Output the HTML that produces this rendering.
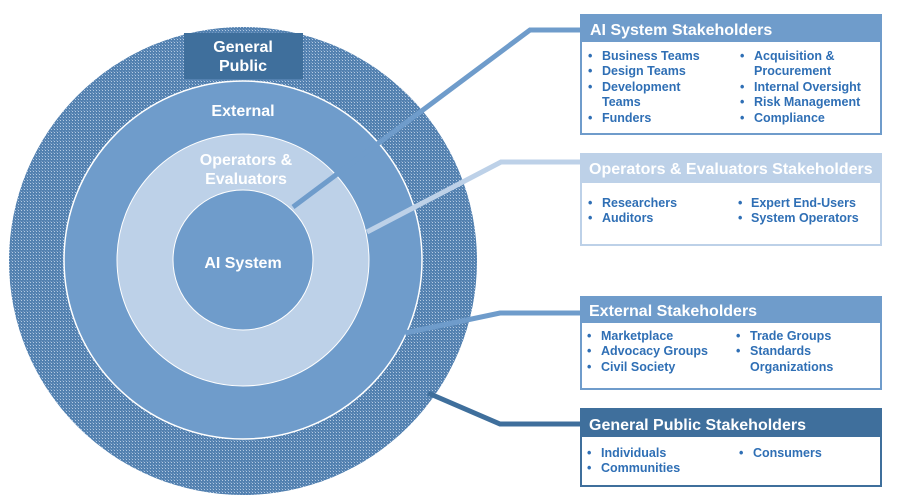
<!DOCTYPE html>
<html><head><meta charset="utf-8"><style>
html,body{margin:0;padding:0;background:#fff;}
svg{display:block;font-family:"Liberation Sans",sans-serif;font-weight:bold;}
</style></head><body>
<svg width="910" height="504" viewBox="0 0 910 504" xmlns="http://www.w3.org/2000/svg">
<defs>
<pattern id="h" width="3" height="3" patternUnits="userSpaceOnUse">
<rect width="3" height="3" fill="#5381b0"/>
<rect width="1" height="1" fill="#b3c9e2"/>
<rect x="2" y="2" width="1" height="1" fill="#7499c2"/>
</pattern>
</defs>
<circle cx="243" cy="261" r="234" fill="url(#h)"/>
<rect x="184" y="33" width="119" height="46" fill="#3f6f9c"/>
<text x="243" y="52" fill="#fff" font-size="16" text-anchor="middle">General</text>
<text x="243" y="71" fill="#fff" font-size="16" text-anchor="middle">Public</text>
<circle cx="243" cy="260" r="179" fill="#6f9ccb" stroke="#fff" stroke-width="1.5"/>
<text x="243" y="116" fill="#fff" font-size="16" text-anchor="middle">External</text>
<circle cx="243" cy="260" r="126" fill="#bdd1e8" stroke="#fff" stroke-width="1"/>
<text x="246" y="165" fill="#fff" font-size="16" text-anchor="middle">Operators &amp;</text>
<text x="246" y="184" fill="#fff" font-size="16" text-anchor="middle">Evaluators</text>
<circle cx="243" cy="260" r="70" fill="#6f9ccb" stroke="#fff" stroke-width="1"/>
<text x="243" y="268" fill="#fff" font-size="16" text-anchor="middle">AI System</text>

<polyline points="293,207 530,30 582,30" fill="none" stroke="#6f9ccb" stroke-width="5"/>
<polyline points="367,232 501,162 582,162" fill="none" stroke="#bdd1e8" stroke-width="5"/>
<polyline points="405,333 500,313 582,313" fill="none" stroke="#6f9ccb" stroke-width="5"/>
<polyline points="428,393 500,424 582,424" fill="none" stroke="#3f6f9c" stroke-width="5"/>

<g font-size="12.5" fill="#2f6fb5">
<rect x="581" y="15" width="300" height="119" fill="#fff" stroke="#6f9ccb" stroke-width="2"/>
<rect x="580" y="14" width="302" height="28" fill="#6f9ccb"/>
<text x="590" y="35" fill="#fff" font-size="16">AI System Stakeholders</text>
<text x="588" y="60">•</text><text x="602" y="60">Business Teams</text>
<text x="588" y="75">•</text><text x="602" y="75">Design Teams</text>
<text x="588" y="91">•</text><text x="602" y="91">Development</text>
<text x="602" y="106">Teams</text>
<text x="588" y="122">•</text><text x="602" y="122">Funders</text>
<text x="740" y="60">•</text><text x="754" y="60">Acquisition &amp;</text>
<text x="754" y="75">Procurement</text>
<text x="740" y="91">•</text><text x="754" y="91">Internal Oversight</text>
<text x="740" y="106">•</text><text x="754" y="106">Risk Management</text>
<text x="740" y="122">•</text><text x="754" y="122">Compliance</text>

<rect x="581" y="154" width="300" height="91" fill="#fff" stroke="#bdd1e8" stroke-width="2"/>
<rect x="580" y="153" width="302" height="30" fill="#bdd1e8"/>
<text x="589" y="174" fill="#fff" font-size="16">Operators &amp; Evaluators Stakeholders</text>
<text x="588" y="207">•</text><text x="602" y="207">Researchers</text>
<text x="588" y="222">•</text><text x="602" y="222">Auditors</text>
<text x="738" y="207">•</text><text x="751" y="207">Expert End-Users</text>
<text x="738" y="222">•</text><text x="751" y="222">System Operators</text>

<rect x="581" y="297" width="300" height="92" fill="#fff" stroke="#6f9ccb" stroke-width="2"/>
<rect x="580" y="296" width="302" height="27" fill="#6f9ccb"/>
<text x="589" y="316" fill="#fff" font-size="16">External Stakeholders</text>
<text x="587" y="340">•</text><text x="601" y="340">Marketplace</text>
<text x="587" y="355">•</text><text x="601" y="355">Advocacy Groups</text>
<text x="587" y="371">•</text><text x="601" y="371">Civil Society</text>
<text x="736" y="340">•</text><text x="750" y="340">Trade Groups</text>
<text x="736" y="355">•</text><text x="750" y="355">Standards</text>
<text x="750" y="371">Organizations</text>

<rect x="581" y="409" width="300" height="77" fill="#fff" stroke="#3f6f9c" stroke-width="2"/>
<rect x="580" y="408" width="302" height="29" fill="#3f6f9c"/>
<text x="589" y="430" fill="#fff" font-size="16">General Public Stakeholders</text>
<text x="587" y="457">•</text><text x="601" y="457">Individuals</text>
<text x="587" y="472">•</text><text x="601" y="472">Communities</text>
<text x="739" y="457">•</text><text x="753" y="457">Consumers</text>
</g>
</svg>
</body></html>
